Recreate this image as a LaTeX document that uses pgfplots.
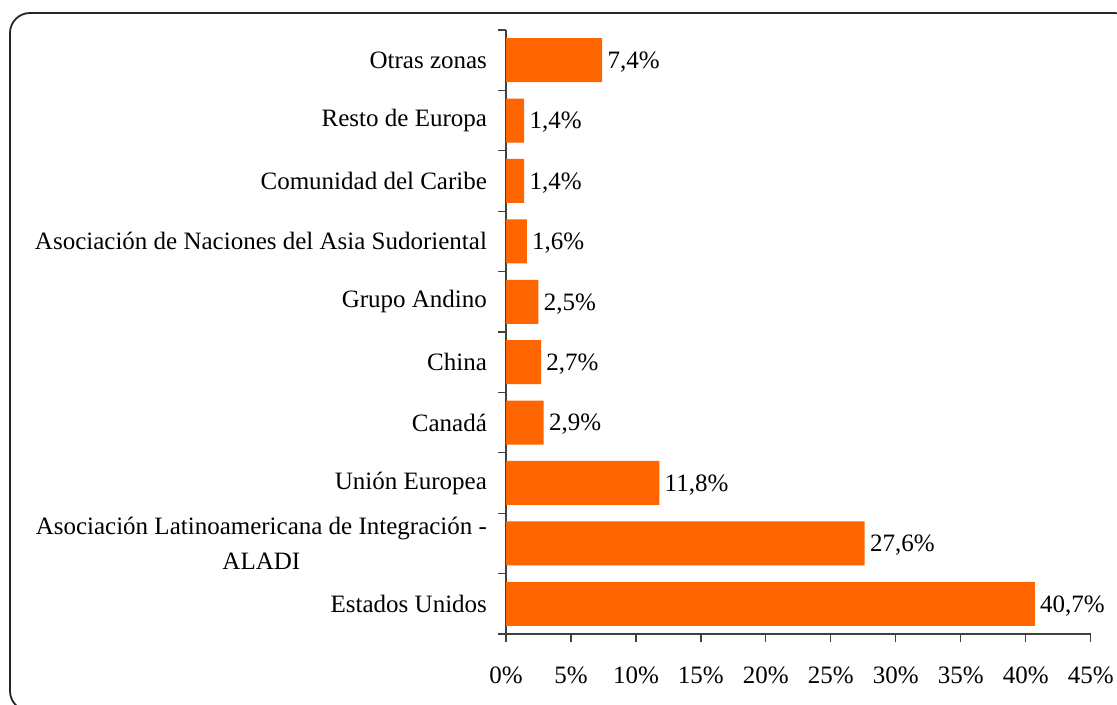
\documentclass[border=0pt]{standalone}
\usepackage{pgfplots}
\pgfplotsset{compat=1.18}
\usepackage{fontspec}
\setmainfont{Liberation Serif}
\definecolor{barc}{HTML}{FF6600}
\begin{document}
\begin{tikzpicture}[font=\fontsize{12.5}{17.5}\selectfont]
\clip (0pt,0pt) rectangle (558.5pt,352.5pt);
\draw[line width=0.9pt, black!85, rounded corners=10pt] (5pt,346pt) rectangle (567pt,-3pt);
\begin{axis}[
  at={(253pt,35.5pt)}, anchor=south west,
  scale only axis, width=292.35pt, height=302pt,
  xmin=0, xmax=45, ymin=-0.5, ymax=9.5,
  xbar, bar width=22pt,
  axis lines*=left,
  axis line style={black!75, line width=0.6pt},
  tick style={black!75, line width=0.6pt},
  tick align=outside,
  major tick length=4pt,
  xtick={0,5,...,45},
  xticklabels={0\%,5\%,10\%,15\%,20\%,25\%,30\%,35\%,40\%,45\%},
  xticklabel style={yshift=-9pt},
  ytick={-0.5,0.5,...,9.5},
  yticklabels={},
  extra y ticks={0,1,2,3,4,5,6,7,8,9},
  extra y tick labels={Estados Unidos,{Asociación Latinoamericana de Integración -\\ALADI},Unión Europea,Canadá,China,Grupo Andino,Asociación de Naciones del Asia Sudoriental,Comunidad del Caribe,Resto de Europa,Otras zonas},
  extra y tick style={major tick length=0pt, yticklabel style={align=center, xshift=-6pt}},
  point meta=x,
  nodes near coords={\pgfmathprintnumber[fixed,fixed zerofill,precision=1,use comma,assume math mode=true]{\pgfplotspointmeta}\%},
  nodes near coords style={inner sep=2.5pt, black, yshift=-1pt},
  clip=false,
]
\addplot[fill=barc, draw=none] coordinates {
(40.7,0) (27.6,1) (11.8,2) (2.9,3) (2.7,4) (2.5,5) (1.6,6) (1.4,7) (1.4,8) (7.4,9)
};
\end{axis}
\end{tikzpicture}
\end{document}
